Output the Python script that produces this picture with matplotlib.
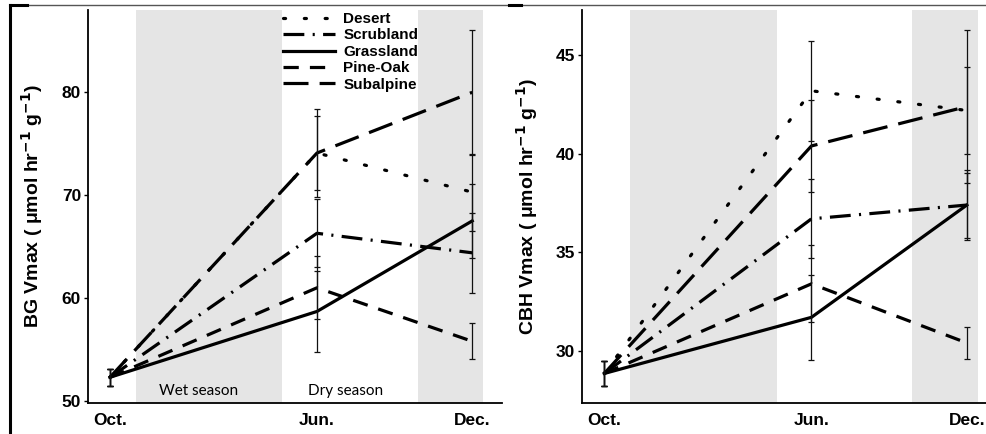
import matplotlib
matplotlib.use("Agg")
import matplotlib.pyplot as plt
from matplotlib.lines import Line2D

plt.rcParams['font.family'] = ['Liberation Sans', 'DejaVu Sans']
plt.rcParams['lines.scale_dashes'] = False

# sampling months: Oct. = 0, Jun. = 8, Dec. = 14
months = [0, 8, 14]
month_labels = ['Oct.', 'Jun.', 'Dec.']
sites = ['Desert', 'Scrubland', 'Grassland', 'Pine-Oak', 'Subalpine']

bg_desert = [52.3, 74.1, 70.3]
bg_scrub = [52.3, 66.3, 64.4]
bg_grass = [52.3, 58.7, 67.5]
bg_pine = [52.3, 61.0, 55.8]
bg_subalp = [52.3, 74.1, 80.0]
bg_desert_se = [0.85, 3.6, 3.75]
bg_scrub_se = [0.85, 3.3, 3.9]
bg_grass_se = [0.85, 3.9, 3.6]
bg_pine_se = [0.85, 3.05, 1.75]
bg_subalp_se = [0.85, 4.3, 6.1]

cbh_desert = [28.85, 43.2, 42.2]
cbh_scrub = [28.85, 36.7, 37.4]
cbh_grass = [28.85, 31.7, 37.4]
cbh_pine = [28.85, 33.4, 30.4]
cbh_subalp = [28.85, 40.4, 42.4]
cbh_desert_se = [0.64, 2.55, 2.2]
cbh_scrub_se = [0.64, 2.0, 1.8]
cbh_grass_se = [0.64, 2.15, 1.65]
cbh_pine_se = [0.64, 1.95, 0.8]
cbh_subalp_se = [0.64, 2.35, 3.9]

# dash patterns in points
styles = {
    'Desert': dict(dashes=(1.5, 13.5), dash_capstyle='round'),
    'Scrubland': dict(dashes=(15, 6, 1.5, 6), dash_capstyle='butt'),
    'Grassland': dict(linestyle='-'),
    'Pine-Oak': dict(dashes=(11, 8), dash_capstyle='butt'),
    'Subalpine': dict(dashes=(18, 8), dash_capstyle='butt'),
}

wet_season = (1.0, 6.66)
dec_band = (11.9, 14.42)

fig = plt.figure(figsize=(9.86, 4.34), dpi=100)
ax1 = fig.add_axes([0.0892, 0.0714, 0.4199, 0.9055])
ax2 = fig.add_axes([0.590, 0.0714, 0.410, 0.9055])


def panel(ax, series, errs, ylim, yticks, ylabel, xlim):
    ax.axvspan(*wet_season, color='#e5e5e5', lw=0, zorder=0)
    ax.axvspan(*dec_band, color='#e5e5e5', lw=0, zorder=0)
    for name, y, e in zip(sites, series, errs):
        ax.plot(months, y, color='black', lw=2.3, label=name, zorder=3,
                **styles[name])
        ax.errorbar(months, y, yerr=e, fmt='none', ecolor='#111111',
                    elinewidth=0.9, capsize=2.5, capthick=0.9, zorder=4)
    ax.set_xlim(*xlim)
    ax.set_ylim(*ylim)
    ax.set_xticks(months)
    ax.set_xticklabels(month_labels)
    ax.set_yticks(yticks)
    for lab in ax.get_xticklabels() + ax.get_yticklabels():
        lab.set_fontweight('bold')
        lab.set_fontsize(12.5)
    ax.tick_params(axis='x', length=0, pad=7)
    ax.tick_params(axis='y', length=3, width=1, pad=2)
    for s in ['top', 'right']:
        ax.spines[s].set_visible(False)
    for s in ['left', 'bottom']:
        ax.spines[s].set_linewidth(1.3)
    ax.set_ylabel(ylabel, fontsize=14, fontweight='bold')
    ax.yaxis.set_label_coords(-0.104, 0.5)


panel(ax1,
      [bg_desert, bg_scrub, bg_grass, bg_pine, bg_subalp],
      [bg_desert_se, bg_scrub_se, bg_grass_se, bg_pine_se, bg_subalp_se],
      (49.8, 88), [50, 60, 70, 80],
      r'BG Vmax ( $\mathregular{\mu}$mol hr$^{\mathbf{-1}}$ g$^{\mathbf{-1}}$)',
      (-0.85, 15.15))
panel(ax2,
      [cbh_desert, cbh_scrub, cbh_grass, cbh_pine, cbh_subalp],
      [cbh_desert_se, cbh_scrub_se, cbh_grass_se, cbh_pine_se, cbh_subalp_se],
      (27.35, 47.3), [30, 35, 40, 45],
      r'CBH Vmax ( $\mathregular{\mu}$mol hr$^{\mathbf{-1}}$ g$^{\mathbf{-1}}$)',
      (-0.87, 14.74))

ax1.text(3.44, 51.0, 'Wet season', fontsize=11, family=['Lato', 'DejaVu Sans'],
         ha='center', va='center')
ax1.text(9.12, 51.0, 'Dry season', fontsize=11, family=['Lato', 'DejaVu Sans'],
         ha='center', va='center')

leg = ax1.legend(loc='upper left', bbox_to_anchor=(0.471, 0.995),
                 frameon=False, borderpad=0, borderaxespad=0,
                 handlelength=3.4, handletextpad=0.55, labelspacing=0.16,
                 prop={'weight': 'bold', 'size': 11})

# panel frame lines
fig.add_artist(Line2D([27 / 986, 1], [1 - 5 / 434] * 2, color='#555555', lw=1.0))
fig.add_artist(Line2D([10 / 986, 27 / 986], [1 - 5 / 434] * 2, color='black', lw=2.2))
fig.add_artist(Line2D([10 / 986] * 2, [0, 1 - 5 / 434], color='black', lw=2.2))
fig.add_artist(Line2D([509 / 986, 521 / 986], [1 - 5 / 434] * 2, color='black', lw=2.2))

fig.savefig('out.png', dpi=100)
